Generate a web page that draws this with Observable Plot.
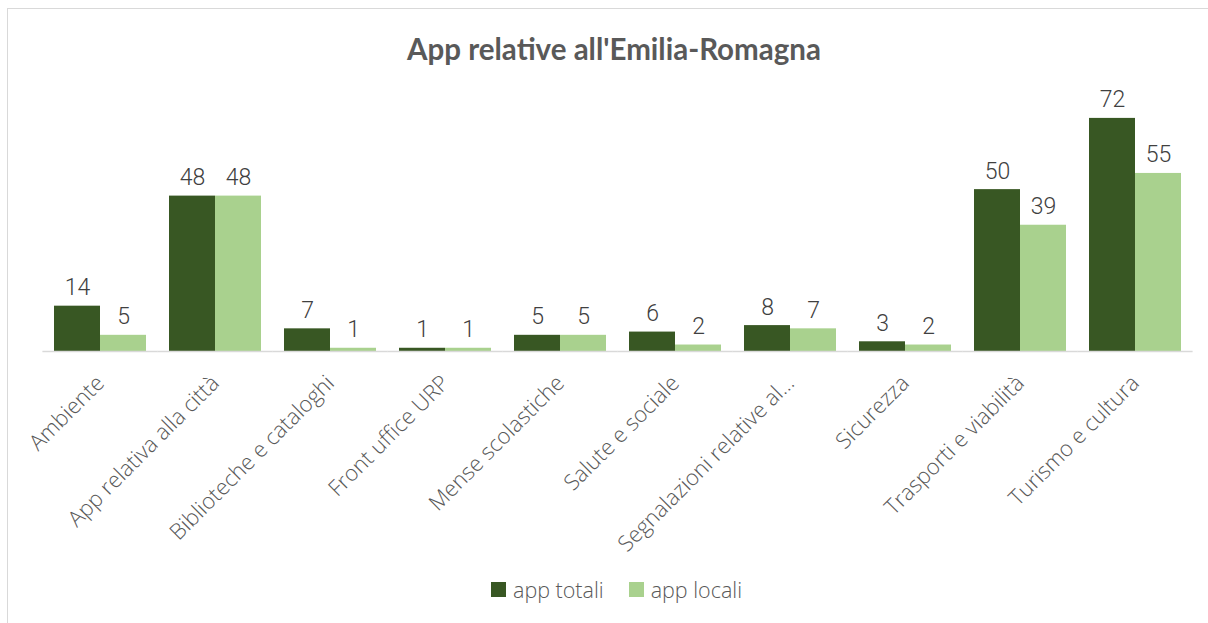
<!DOCTYPE html>
<html>
<head>
<meta charset="utf-8">
<script src="https://cdn.jsdelivr.net/npm/d3@7"></script>
<script src="https://cdn.jsdelivr.net/npm/@observablehq/plot@0.6"></script>
<style>
  body { margin: 0; background: #fff; width: 1208px; height: 623px; overflow: hidden; position: relative; }
  #frame { position: absolute; left: 7px; top: 8px; width: 1400px; height: 800px; border: 1px solid #d9d9d9; box-sizing: border-box; }
  #title { height: 80px; line-height: 98px; text-align: center; padding-left: 20px; font-family: Lato, sans-serif; font-weight: 700; font-size: 29.5px; color: #595959; }
  #legend { display: flex; align-items: center; margin-left: 491px; margin-top: 15px; font-family: "Open Sans", sans-serif; font-size: 21.5px; font-weight: 300; color: #595959; }
  .sw { width: 15px; height: 15px; display: inline-block; margin-right: 7px; }
  .item { display: flex; align-items: center; margin-right: 25px; }
</style>
</head>
<body>
<div id="frame"></div>
<div id="title">App relative all'Emilia-Romagna</div>
<div id="chart"></div>
<div id="legend"></div>
<script>
const categories = ["Ambiente", "App relativa alla città", "Biblioteche e cataloghi", "Front uffice URP", "Mense scolastiche", "Salute e sociale", "Segnalazioni relative al...", "Sicurezza", "Trasporti e viabilità", "Turismo e cultura"];
const series = ["app totali", "app locali"];
const appTotali = [14, 48, 7, 1, 5, 6, 8, 3, 50, 72];
const appLocali = [5, 48, 1, 1, 5, 2, 7, 2, 39, 55];
const colors = ["#385723", "#a9d18e"];

const data = [];
categories.forEach((c, i) => {
  data.push({cat: c, series: series[0], value: appTotali[i]});
  data.push({cat: c, series: series[1], value: appLocali[i]});
});

const chart = Plot.plot({
  width: 1208,
  height: 480,
  marginLeft: 40,
  marginRight: 13,
  marginTop: 12,
  marginBottom: 209,
  style: {fontFamily: "'Open Sans', sans-serif", background: "transparent"},
  fx: {domain: categories, paddingInner: 0.2, paddingOuter: 0.1, label: null},
  x: {domain: series, padding: 0, axis: null},
  y: {domain: [0, 80], axis: null},
  color: {domain: series, range: colors},
  marks: [
    Plot.barY(data, {fx: "cat", x: "series", y: "value", fill: "series"}),
    Plot.ruleY([0], {stroke: "#d9d9d9", strokeWidth: 1.3, insetLeft: -11.6, insetRight: -11.6}),
    Plot.text(data, {fx: "cat", x: "series", y: "value", text: d => String(d.value), lineAnchor: "bottom", dy: -11, fontSize: 23, fontWeight: 300, fill: "#404040", fontFamily: "Roboto, sans-serif"}),
    Plot.axisFx({anchor: "bottom", tickSize: 0, tickPadding: 28, tickRotate: -45, fontSize: 22, fontWeight: 300, fill: "#595959", label: null})
  ]
});
document.getElementById("chart").appendChild(chart);

const legend = document.getElementById("legend");
series.forEach((s, i) => {
  const item = document.createElement("div");
  item.className = "item";
  const sw = document.createElement("span");
  sw.className = "sw";
  sw.style.background = colors[i];
  item.appendChild(sw);
  item.appendChild(document.createTextNode(s));
  legend.appendChild(item);
});
</script>
</body>
</html>
